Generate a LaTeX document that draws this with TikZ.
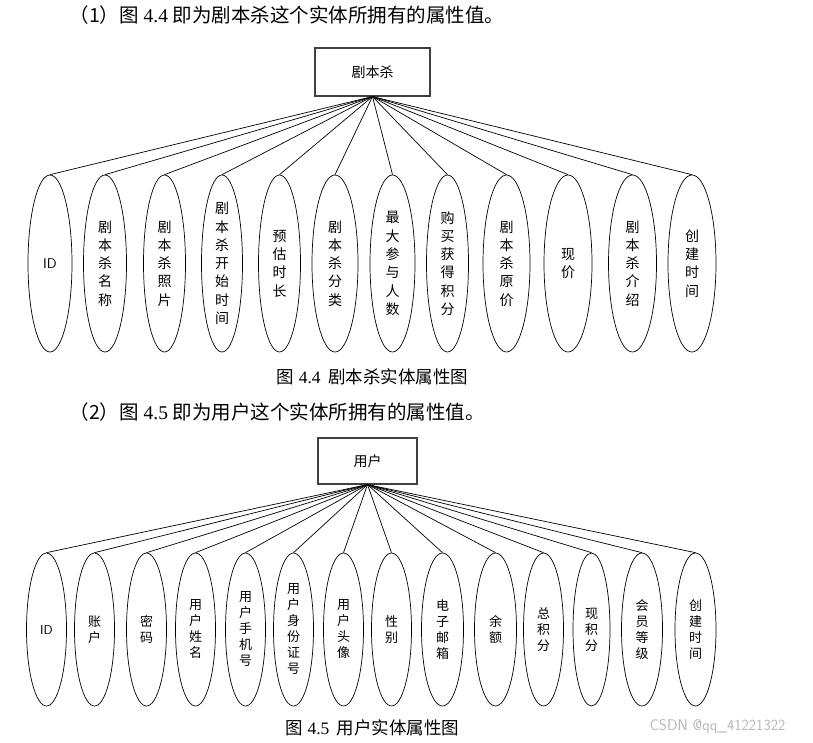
\documentclass[tikz,border=0pt]{standalone}
\usepackage{fontspec}
\setmainfont{Liberation Serif}
\newfontfamily\cjk{Noto Sans CJK SC}
\usetikzlibrary{shapes.geometric}

\begin{document}
\begin{tikzpicture}[x=1pt, y=-1pt, every node/.style={align=center}]
\tikzset{
  entity/.style={draw=black!75, line width=1.1pt, minimum width=115, minimum height=48, font=\cjk\fontsize{14}{16}\selectfont},
  attra/.style={draw, ellipse, line width=0.7pt, inner sep=0pt, minimum width=45, minimum height=177, font=\cjk\fontsize{14}{18.3}\selectfont},
  attrb/.style={draw, ellipse, line width=0.7pt, inner sep=0pt, minimum width=40, minimum height=153, font=\cjk\fontsize{13}{16}\selectfont},
  link/.style={line width=0.7pt},
  heading/.style={anchor=west, font=\fontsize{19.5}{22}\selectfont},
  caption/.style={font=\fontsize{17.5}{20}\selectfont}
}
\useasboundingbox (0,0) rectangle (813,743);

% figure 4.4
\node[heading] (head1) at (66,15) {{\cjk （1）图} 4.4 {\cjk 即为剧本杀这个实体所拥有的属性值。}};
\node[entity] (jbs) at (372.5,72) {剧本杀};
\node[attra, minimum width=44] (a1) at (50,263.5) {\sffamily\fontsize{14}{16}\selectfont ID};
\node[attra, minimum width=43] (a2) at (105,263.5) {剧\\本\\杀\\名\\称};
\node[attra, minimum width=42] (a3) at (164.5,263.5) {剧\\本\\杀\\照\\片};
\node[attra, minimum width=41] (a4) at (222,263.5) {剧\\本\\杀\\开\\始\\时\\间};
\node[attra, minimum width=42] (a5) at (279.5,263.5) {预\\估\\时\\长};
\node[attra, minimum width=46] (a6) at (335,263.5) {剧\\本\\杀\\分\\类};
\node[attra, minimum width=45] (a7) at (392.5,263.5) {最\\大\\参\\与\\人\\数};
\node[attra, minimum width=42] (a8) at (447.5,263.5) {购\\买\\获\\得\\积\\分};
\node[attra, minimum width=47] (a9) at (506.5,263.5) {剧\\本\\杀\\原\\价};
\node[attra, minimum width=48] (a10) at (568,263.5) {现\\价};
\node[attra, minimum width=48] (a11) at (632.5,263.5) {剧\\本\\杀\\介\\绍};
\node[attra, minimum width=48] (a12) at (692,263.5) {创\\建\\时\\间};
\draw[link] (jbs.south) -- (a1.north);
\draw[link] (jbs.south) -- (a2.north);
\draw[link] (jbs.south) -- (a3.north);
\draw[link] (jbs.south) -- (a4.north);
\draw[link] (jbs.south) -- (a5.north);
\draw[link] (jbs.south) -- (a6.north);
\draw[link] (jbs.south) -- (a7.north);
\draw[link] (jbs.south) -- (a8.north);
\draw[link] (jbs.south) -- (a9.north);
\draw[link] (jbs.south) -- (a10.north);
\draw[link] (jbs.south) -- (a11.north);
\draw[link] (jbs.south) -- (a12.north);
\node[caption] (cap1) at (372.5,377) {{\cjk 图} 4.4\, {\cjk 剧本杀实体属性图}};

% figure 4.5
\node[heading] (head2) at (66,412) {{\cjk （2）图} 4.5 {\cjk 即为用户这个实体所拥有的属性值。}};
\node[entity, minimum width=99, minimum height=46] (user) at (367.5,461) {用户};
\node[attrb] (b1) at (46.5,629.5) {\sffamily\fontsize{13}{15}\selectfont ID};
\node[attrb] (b2) at (94.5,629.5) {账\\户};
\node[attrb] (b3) at (146.5,629.5) {密\\码};
\node[attrb] (b4) at (195.5,629.5) {用\\户\\姓\\名};
\node[attrb] (b5) at (245.5,629.5) {用\\户\\手\\机\\号};
\node[attrb] (b6) at (293.5,629.5) {用\\户\\身\\份\\证\\号};
\node[attrb] (b7) at (343.5,629.5) {用\\户\\头\\像};
\node[attrb] (b8) at (391.5,629.5) {性\\别};
\node[attrb, minimum width=42] (b9) at (442.5,629.5) {电\\子\\邮\\箱};
\node[attrb, minimum width=42] (b10) at (495.5,629.5) {余\\额};
\node[attrb] (b11) at (543.5,629.5) {总\\积\\分};
\node[attrb, minimum width=37] (b12) at (591.5,629.5) {现\\积\\分};
\node[attrb, minimum width=41] (b13) at (642,629.5) {会\\员\\等\\级};
\node[attrb, minimum width=41] (b14) at (695.5,629.5) {创\\建\\时\\间};
\draw[link] (user.south) -- (b1.north);
\draw[link] (user.south) -- (b2.north);
\draw[link] (user.south) -- (b3.north);
\draw[link] (user.south) -- (b4.north);
\draw[link] (user.south) -- (b5.north);
\draw[link] (user.south) -- (b6.north);
\draw[link] (user.south) -- (b7.north);
\draw[link] (user.south) -- (b8.north);
\draw[link] (user.south) -- (b9.north);
\draw[link] (user.south) -- (b10.north);
\draw[link] (user.south) -- (b11.north);
\draw[link] (user.south) -- (b12.north);
\draw[link] (user.south) -- (b13.north);
\draw[link] (user.south) -- (b14.north);
\node[caption] (cap2) at (372.5,728) {{\cjk 图} 4.5\, {\cjk 用户实体属性图}};
\node[font=\sffamily\fontsize{15.5}{18}\selectfont, text=black!28] (mark) at (717.5,727) {CSDN @qq\_41221322};
\end{tikzpicture}
\end{document}
